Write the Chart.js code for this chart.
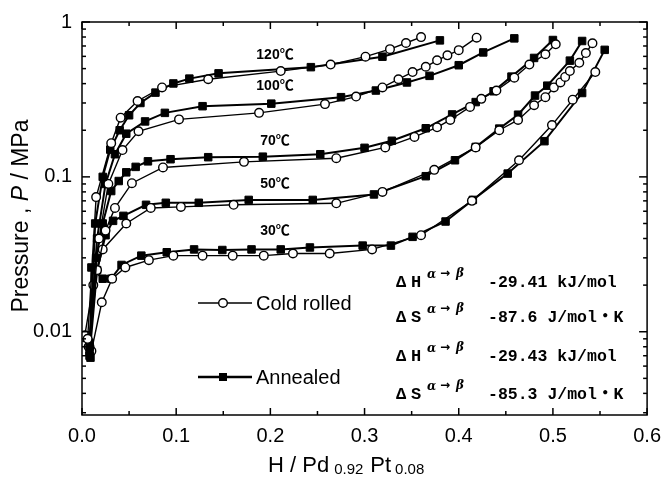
<!DOCTYPE html>
<html>
<head>
<meta charset="utf-8">
<script src="https://cdn.jsdelivr.net/npm/chart.js@4.4.0/dist/chart.umd.min.js"></script>
<style>
  html, body { margin: 0; padding: 0; background: #fff; }
  #wrap { width: 670px; height: 479px; }
</style>
</head>
<body>
<div id="wrap"><canvas id="myChart" width="670" height="479"></canvas></div>
<script>
// isotherms: [H/M, P in MPa]
const cold120 = [[0.006,0.009],[0.015,0.074],[0.031,0.165],[0.041,0.241],[0.059,0.309],[0.085,0.378],[0.134,0.427],[0.211,0.482],[0.264,0.531],[0.301,0.597],[0.327,0.668],[0.344,0.732],[0.360,0.799]];
const ann120 = [[0.008,0.008],[0.014,0.05],[0.022,0.10],[0.030,0.15],[0.040,0.20],[0.050,0.25],[0.062,0.30],[0.078,0.35],[0.097,0.401],[0.114,0.431],[0.145,0.466],[0.243,0.511],[0.319,0.597],[0.380,0.761]];
const cold100 = [[0.007,0.008],[0.018,0.04],[0.028,0.09],[0.043,0.149],[0.060,0.197],[0.103,0.235],[0.188,0.259],[0.258,0.295],[0.291,0.330],[0.319,0.378],[0.336,0.427],[0.351,0.475],[0.365,0.514],[0.377,0.566],[0.388,0.609],[0.400,0.658],[0.419,0.792]];
const ann100 = [[0.008,0.0085],[0.016,0.04],[0.025,0.09],[0.035,0.14],[0.047,0.190],[0.067,0.228],[0.088,0.259],[0.128,0.286],[0.201,0.297],[0.275,0.327],[0.312,0.361],[0.345,0.407],[0.369,0.449],[0.400,0.526],[0.426,0.636],[0.459,0.784]];
const cold70 = [[0.008,0.008],[0.016,0.025],[0.025,0.045],[0.035,0.063],[0.053,0.091],[0.086,0.115],[0.172,0.125],[0.270,0.132],[0.322,0.155],[0.353,0.181],[0.377,0.209],[0.391,0.233],[0.412,0.283],[0.424,0.319],[0.440,0.361],[0.459,0.437],[0.475,0.531],[0.492,0.619],[0.503,0.718]];
const ann70 = [[0.008,0.0075],[0.015,0.03],[0.022,0.05],[0.031,0.081],[0.039,0.094],[0.047,0.107],[0.057,0.116],[0.070,0.126],[0.094,0.130],[0.134,0.134],[0.192,0.135],[0.253,0.140],[0.300,0.154],[0.329,0.171],[0.365,0.206],[0.393,0.253],[0.418,0.304],[0.437,0.357],[0.456,0.444],[0.480,0.586],[0.500,0.765]];
const cold50 = [[0.003,0.0095],[0.012,0.02],[0.022,0.034],[0.047,0.050],[0.073,0.063],[0.105,0.064],[0.161,0.066],[0.270,0.0675],[0.319,0.080],[0.374,0.111],[0.418,0.155],[0.443,0.200],[0.463,0.233],[0.480,0.290],[0.492,0.327],[0.501,0.378],[0.508,0.407],[0.513,0.442],[0.518,0.482],[0.528,0.545],[0.535,0.630],[0.542,0.729]];
const ann50 = [[0.008,0.007],[0.016,0.025],[0.025,0.042],[0.033,0.052],[0.044,0.056],[0.068,0.066],[0.089,0.068],[0.124,0.068],[0.177,0.071],[0.245,0.071],[0.310,0.077],[0.365,0.101],[0.396,0.128],[0.418,0.156],[0.443,0.205],[0.463,0.252],[0.481,0.335],[0.494,0.388],[0.518,0.563],[0.531,0.754]];
const cold30 = [[0.003,0.0092],[0.010,0.0075],[0.021,0.0155],[0.032,0.022],[0.046,0.026],[0.071,0.029],[0.097,0.031],[0.128,0.031],[0.160,0.031],[0.193,0.031],[0.224,0.032],[0.263,0.032],[0.308,0.034],[0.360,0.042],[0.414,0.070],[0.464,0.128],[0.499,0.216],[0.521,0.315],[0.545,0.475]];
const ann30 = [[0.009,0.0068],[0.010,0.026],[0.022,0.022],[0.031,0.022],[0.042,0.027],[0.063,0.031],[0.090,0.0326],[0.119,0.034],[0.149,0.0337],[0.180,0.034],[0.211,0.034],[0.242,0.035],[0.298,0.036],[0.328,0.036],[0.351,0.041],[0.386,0.0515],[0.415,0.071],[0.452,0.105],[0.491,0.170],[0.531,0.348],[0.555,0.661]];

const temps = ['120℃', '100℃', '70℃', '50℃', '30℃'];
const xTicks = [0, 0.1, 0.2, 0.3, 0.4, 0.5, 0.6];
const xTickLabels = ['0.0', '0.1', '0.2', '0.3', '0.4', '0.5', '0.6'];
const yTicks = [0.01, 0.1, 1];
const yTickLabels = ['0.01', '0.1', '1'];
const thermo = [
    ['H', '-29.41 kJ/mol'],
    ['S', '-87.6 J/mol・K'],
    ['H', '-29.43 kJ/mol'],
    ['S', '-85.3 J/mol・K']
];

const SANS = '"Liberation Sans", Arial, "Noto Sans CJK JP", sans-serif';
const MONO = '"Liberation Mono", "Noto Sans CJK JP", monospace';

function toPts(arr) {
    return arr.map(p => ({ x: p[0], y: p[1] }));
}
function coldSet(name, arr) {
    return {
        label: 'Cold rolled ' + name, data: toPts(arr),
        borderColor: '#000', borderWidth: 1.4,
        pointStyle: 'circle', pointRadius: 4.3,
        pointBackgroundColor: '#fff', pointBorderColor: '#000', pointBorderWidth: 1.4
    };
}
function annSet(name, arr) {
    return {
        label: 'Annealed ' + name, data: toPts(arr),
        borderColor: '#000', borderWidth: 2,
        pointStyle: 'rect', pointRadius: 5.3,
        pointBackgroundColor: '#000', pointBorderColor: '#000', pointBorderWidth: 1
    };
}

const colds = [cold120, cold100, cold70, cold50, cold30];
const anns = [ann120, ann100, ann70, ann50, ann30];
const datasets = [];
temps.forEach((t, i) => {
    datasets.push(coldSet(t, colds[i]));
    datasets.push(annSet(t, anns[i]));
});

const decorPlugin = {
    id: 'decor',
    afterDraw(chart) {
        const ctx = chart.ctx;
        const a = chart.chartArea;
        const xs = chart.scales.x, ys = chart.scales.y;
        ctx.save();
        ctx.strokeStyle = '#000';
        ctx.fillStyle = '#000';
        ctx.lineWidth = 1.5;
        ctx.strokeRect(a.left, a.top, a.right - a.left, a.bottom - a.top);

        function seg(x1, y1, x2, y2) {
            ctx.beginPath(); ctx.moveTo(x1, y1); ctx.lineTo(x2, y2); ctx.stroke();
        }
        // inward ticks, x: majors at 0.1, minors at 0.05
        for (let i = 0; i <= 12; i++) {
            const px = xs.getPixelForValue(i * 0.05);
            const len = i % 2 === 0 ? 7 : 4;
            seg(px, a.bottom, px, a.bottom - len);
            seg(px, a.top, px, a.top + len);
        }
        // inward ticks, y (log)
        for (let e = -3; e <= 0; e++) {
            for (let m = 1; m <= 9; m++) {
                const v = m * Math.pow(10, e);
                if (v < ys.min || v > ys.max * 1.0001) continue;
                const py = ys.getPixelForValue(v);
                const len = m === 1 ? 8 : 4;
                seg(a.left, py, a.left + len, py);
                seg(a.right, py, a.right - len, py);
            }
        }

        // temperature labels
        ctx.font = 'bold 14px ' + SANS;
        ctx.textAlign = 'center';
        ctx.textBaseline = 'middle';
        const tempY = [55, 86, 141, 184, 231];
        temps.forEach((t, i) => ctx.fillText(t, 275, tempY[i]));

        // legend
        ctx.textAlign = 'left';
        ctx.font = '20px ' + SANS;
        ctx.lineWidth = 1.4;
        seg(198, 303, 252, 303);
        ctx.beginPath(); ctx.arc(223, 303, 4.3, 0, Math.PI * 2);
        ctx.fillStyle = '#fff'; ctx.fill(); ctx.stroke();
        ctx.fillStyle = '#000';
        ctx.fillText('Cold rolled', 256, 304);
        ctx.lineWidth = 2.4;
        seg(198, 377, 252, 377);
        ctx.fillRect(219, 373, 8, 8);
        ctx.fillText('Annealed', 256, 378);

        // thermodynamic values
        const rowY = [283, 318, 357, 395];
        thermo.forEach((r, i) => {
            const y = rowY[i];
            ctx.font = 'bold 17px ' + MONO;
            ctx.fillText('Δ', 396, y);
            ctx.fillText(r[0], 411, y);
            ctx.font = 'italic bold 12px "DejaVu Serif", serif';
            ctx.fillText('α', 427, y - 8);
            ctx.font = 'bold 12px "DejaVu Sans", sans-serif';
            ctx.fillText('→', 440, y - 9);
            ctx.font = 'italic bold 12px "DejaVu Serif", serif';
            ctx.fillText('β', 456, y - 9);
            ctx.font = 'bold 16.5px ' + MONO;
            ctx.fillText(r[1], 488, y);
        });

        // y axis title
        ctx.save();
        ctx.translate(22, 216);
        ctx.rotate(-Math.PI / 2);
        const p1 = 'Pressure , ', p2 = 'P', p3 = ' / MPa';
        ctx.font = '23px ' + SANS;
        const w1 = ctx.measureText(p1).width, w3 = ctx.measureText(p3).width;
        ctx.font = 'italic 23px ' + SANS;
        const w2 = ctx.measureText(p2).width;
        let x0 = -(w1 + w2 + w3) / 2;
        ctx.textAlign = 'left';
        ctx.font = '23px ' + SANS;
        ctx.fillText(p1, x0, 0);
        ctx.font = 'italic 23px ' + SANS;
        ctx.fillText(p2, x0 + w1, 0);
        ctx.font = '23px ' + SANS;
        ctx.fillText(p3, x0 + w1 + w2, 0);
        ctx.restore();

        // x axis title with subscripts
        ctx.textBaseline = 'alphabetic';
        ctx.textAlign = 'left';
        let cx = 268;
        ctx.font = '22px ' + SANS;
        ctx.fillText('H / Pd', cx, 472);
        cx += ctx.measureText('H / Pd').width + 5;
        ctx.font = '15px ' + SANS;
        ctx.fillText('0.92', cx, 474);
        cx += ctx.measureText('0.92').width + 7;
        ctx.font = '22px ' + SANS;
        ctx.fillText('Pt', cx, 472);
        cx += ctx.measureText('Pt').width + 4;
        ctx.font = '15px ' + SANS;
        ctx.fillText('0.08', cx, 474);
        ctx.restore();
    }
};

const ctx = document.getElementById('myChart');
const myChart = new Chart(ctx, {
    type: 'line',
    data: { datasets: datasets },
    options: {
        responsive: false,
        animation: false,
        devicePixelRatio: 1,
        layout: { autoPadding: false, padding: { top: 13, right: 18, left: 0, bottom: 0 } },
        plugins: { legend: { display: false }, tooltip: { enabled: false } },
        elements: { line: { tension: 0, fill: false } },
        scales: {
            x: {
                type: 'linear', min: 0, max: 0.6,
                afterBuildTicks: s => { s.ticks = xTicks.map(v => ({ value: v })); },
                afterFit: s => { s.height = 64; },
                grid: { display: false, drawTicks: false },
                border: { display: false },
                ticks: {
                    padding: 9, color: '#000', maxRotation: 0, autoSkip: false,
                    font: { family: SANS, size: 20 },
                    callback: (v, i) => xTickLabels[i]
                }
            },
            y: {
                type: 'logarithmic', min: 0.0029, max: 1,
                afterBuildTicks: s => { s.ticks = yTicks.map(v => ({ value: v })); },
                afterFit: s => { s.width = 82; },
                grid: { display: false, drawTicks: false },
                border: { display: false },
                ticks: {
                    padding: 10, color: '#000', autoSkip: false,
                    font: { family: SANS, size: 20 },
                    callback: (v, i) => yTickLabels[i]
                }
            }
        }
    },
    plugins: [decorPlugin]
});
</script>
</body>
</html>
